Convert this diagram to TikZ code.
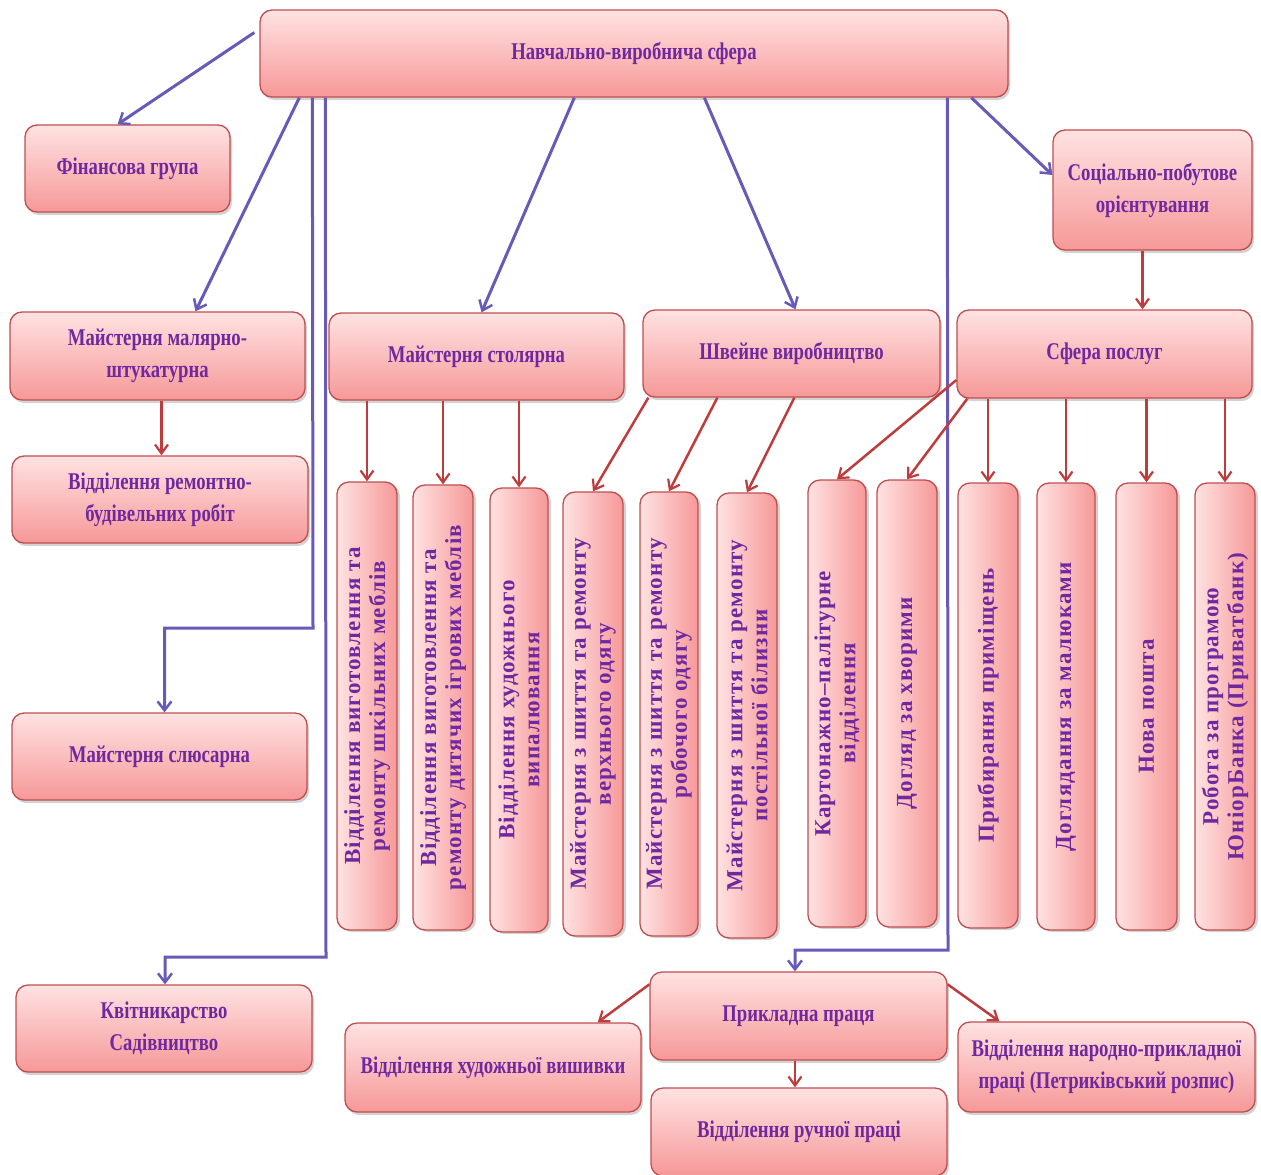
\documentclass[tikz,border=0pt]{standalone}
\usepackage{fontspec}
\usetikzlibrary{arrows.meta,shadows}
\newfontfamily\hfont[FakeStretch=0.78]{Liberation Serif}
\newfontfamily\vfont[LetterSpace=5]{Liberation Serif}
\definecolor{pinkA}{RGB}{255,226,226}
\definecolor{pinkB}{RGB}{246,152,152}
\definecolor{boxred}{RGB}{192,78,78}
\definecolor{txt}{RGB}{112,40,160}
\definecolor{conblue}{RGB}{105,90,185}
\definecolor{conred}{RGB}{192,60,60}
\tikzset{
  box/.style={draw=boxred, line width=1.3pt, rounded corners=12pt,
    top color=pinkA, bottom color=pinkB, text=txt, align=center,
    inner sep=2pt, font=\hfont\bfseries\fontsize{24}{32}\selectfont,
    drop shadow={opacity=0.35, shadow xshift=2pt, shadow yshift=-3pt}},
  vbox/.style={draw=boxred, line width=1.3pt, rounded corners=12pt,
    left color=pinkA, right color=pinkB, text=txt, align=center,
    inner sep=2pt, rotate=90, minimum height=60pt,
    font=\vfont\bfseries\fontsize{23}{25}\selectfont,
    drop shadow={opacity=0.35, shadow xshift=3pt, shadow yshift=-2pt}},
  bcon/.style={draw=conblue, line width=3pt, -{Straight Barb[length=9pt,width=14pt,line width=2.5pt]}},
  rcon/.style={draw=conred, line width=2.5pt, -{Straight Barb[length=9pt,width=13pt,line width=2.2pt]}}
}
\begin{document}
\begin{tikzpicture}[x=1pt,y=-1pt]
\useasboundingbox (0,0) rectangle (1261,1175);
% main boxes
\node[box, minimum width=748pt, minimum height=87pt] (top) at (634,53.5) {Навчально-виробнича сфера};
\node[box, minimum width=205pt, minimum height=87pt] (fin) at (127.5,168.5) {Фінансова група};
\node[box, minimum width=199pt, minimum height=120pt] (soc) at (1152.5,190) {Соціально-побутове\\орієнтування};
\node[box, minimum width=295pt, minimum height=88pt] (mal) at (157.5,356) {Майстерня малярно-\\штукатурна};
\node[box, minimum width=296pt, minimum height=87pt] (rem) at (160,499.5) {Відділення ремонтно-\\будівельних робіт};
\node[box, minimum width=295pt, minimum height=87pt] (slu) at (159.5,756.5) {Майстерня слюсарна};
\node[box, minimum width=296pt, minimum height=87pt] (kvit) at (164,1028.5) {Квітникарство\\Садівництво};
\node[box, minimum width=295pt, minimum height=87pt] (stol) at (476.5,356.5) {Майстерня столярна};
\node[box, minimum width=297pt, minimum height=87pt] (shv) at (791.5,353.5) {Швейне виробництво};
\node[box, minimum width=295pt, minimum height=88pt] (sfera) at (1104.5,354) {Сфера послуг};
% vertical boxes
\node[vbox, minimum width=448pt] (v1) at (367,706) {Відділення виготовлення та\\ремонту шкільних меблів};
\node[vbox, minimum width=445pt] (v2) at (443,707.5) {Відділення виготовлення та\\ремонту дитячих ігрових меблів};
\node[vbox, minimum width=444pt, minimum height=58pt] (v3) at (519,710) {Відділення художнього\\випалювання};
\node[vbox, minimum width=444pt] (v4) at (593,714) {Майстерня з шиття та ремонту\\верхнього одягу};
\node[vbox, minimum width=444pt, minimum height=58pt] (v5) at (669,714) {Майстерня з шиття та ремонту\\робочого одягу};
\node[vbox, minimum width=445pt] (v6) at (747,715.5) {Майстерня з шиття та ремонту\\постільної білизни};
\node[vbox, minimum width=447pt, minimum height=58pt] (v7) at (837,703.5) {Картонажно–палітурне\\відділення};
\node[vbox, minimum width=447pt] (v8) at (907,703.5) {Догляд за хворими};
\node[vbox, minimum width=445pt] (v9) at (988,705.5) {Прибирання приміщень};
\node[vbox, minimum width=447pt, minimum height=58pt] (v10) at (1066,706.5) {Доглядання за малюками};
\node[vbox, minimum width=447pt, minimum height=61pt] (v11) at (1146.5,706.5) {Нова пошта};
\node[vbox, minimum width=447pt] (v12) at (1225,706.5) {Робота за програмою\\ЮніорБанка (Приватбанк)};
% bottom boxes
\node[box, minimum width=297pt, minimum height=88pt] (prik) at (798.5,1016) {Прикладна праця};
\node[box, minimum width=296pt, minimum height=89pt] (vysh) at (493,1067.5) {Відділення художньої вишивки};
\node[box, minimum width=296pt, minimum height=88pt] (ruch) at (799,1132) {Відділення ручної праці};
\node[box, minimum width=297pt, minimum height=90pt] (narod) at (1106.5,1067) {Відділення народно-прикладної\\праці (Петриківський розпис)};
% bend coordinates
\coordinate (b1) at (313,628);
\coordinate (b2) at (326,957);
\coordinate (b3) at (948,950);
% blue connectors
\draw[bcon] ([xshift=-5pt,yshift=21pt]top.west) -- ([xshift=-10pt]fin.north);
\draw[bcon] ([xshift=40pt]top.south west) -- ([xshift=38pt]mal.north);
\draw[bcon] ([xshift=53pt]top.south west) -- (b1) -| ([xshift=5pt]slu.north);
\draw[bcon] ([xshift=66pt]top.south west) -- (b2) -| ([xshift=1pt]kvit.north);
\draw[bcon] ([xshift=315pt]top.south west) -- ([xshift=5pt]stol.north);
\draw[bcon] ([xshift=445pt]top.south west) -- ([xshift=4pt]shv.north);
\draw[bcon] ([xshift=688pt]top.south west) -- (b3) -| ([xshift=-3.5pt]prik.north);
\draw[bcon] ([xshift=712pt]top.south west) -- ([yshift=15pt]soc.west);
% red connectors
\draw[rcon] ([xshift=-10pt]soc.south) -- ([xshift=-10pt]soc.south |- sfera.north);
\draw[rcon] ([xshift=4pt]mal.south) -- ([xshift=4pt]mal.south |- rem.north);
\draw[rcon] (v1.east |- stol.south) -- (v1.east);
\draw[rcon] (v2.east |- stol.south) -- (v2.east);
\draw[rcon] (v3.east |- stol.south) -- (v3.east);
\draw[rcon] ([xshift=6pt]shv.south west) -- (v4.east);
\draw[rcon] ([xshift=75pt]shv.south west) -- (v5.east);
\draw[rcon] ([xshift=152pt]shv.south west) -- (v6.east);
\draw[rcon] ([yshift=-26pt]sfera.west) -- (v7.east);
\draw[rcon] ([xshift=11pt]sfera.south west) -- (v8.east);
\draw[rcon] (v9.east |- sfera.south) -- (v9.east);
\draw[rcon] (v10.east |- sfera.south) -- (v10.east);
\draw[rcon] (v11.east |- sfera.south) -- (v11.east);
\draw[rcon] (v12.east |- sfera.south) -- (v12.east);
\draw[rcon] ([yshift=-13pt]prik.north west) -- ([xshift=-44pt]vysh.north east);
\draw[rcon] ([xshift=-3.5pt]prik.south) -- ([xshift=-3.5pt]prik.south |- ruch.north);
\draw[rcon] ([yshift=-13pt]prik.north east) -- ([xshift=42pt]narod.north west);
\end{tikzpicture}
\end{document}
